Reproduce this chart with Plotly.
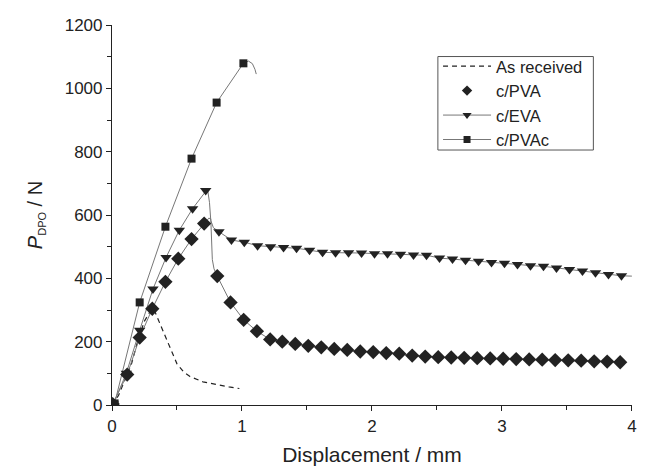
import plotly.graph_objects as go

# As received (dashed curve, no markers)
recv_x = [0.0, 0.05, 0.1, 0.15, 0.2, 0.25, 0.3, 0.32, 0.35, 0.4, 0.45, 0.5, 0.55, 0.6, 0.7, 0.8, 0.9, 0.98]
recv_y = [0, 30, 80, 130, 205, 265, 300, 305, 275, 225, 175, 130, 105, 90, 73, 64, 57, 52]

# c/PVA markers
pva_x = [0.005, 0.117, 0.213, 0.31, 0.411, 0.51, 0.612, 0.709, 0.81, 0.912, 1.013, 1.115, 1.217,
         1.31, 1.41, 1.51, 1.61, 1.71, 1.81, 1.91, 2.01, 2.11, 2.21, 2.31, 2.41, 2.51, 2.61, 2.71,
         2.81, 2.91, 3.01, 3.11, 3.21, 3.31, 3.41, 3.51, 3.61, 3.71, 3.81, 3.91]
pva_y = [3, 96, 213, 304, 389, 462, 524, 573, 407, 324, 269, 233, 207,
         200, 193, 187, 182, 177, 174, 169, 167, 164, 162, 156, 153, 151, 150, 149,
         148, 147, 146, 145, 144, 143, 142, 141, 140, 138, 137, 135]
# c/PVA raw curve around the peak drop
pva_peak_x = [0.745, 0.76, 0.765, 0.772, 0.785]
pva_peak_y = [590, 588, 540, 459, 430]

# c/EVA markers
eva_x = [0.01, 0.11, 0.213, 0.315, 0.416, 0.518, 0.62, 0.721, 0.823, 0.919, 1.018, 1.12, 1.22,
         1.32, 1.42, 1.52, 1.62, 1.72, 1.82, 1.92, 2.02, 2.12, 2.22, 2.32, 2.42, 2.52, 2.62, 2.72,
         2.82, 2.92, 3.02, 3.12, 3.22, 3.32, 3.42, 3.52, 3.62, 3.72, 3.82, 3.92]
eva_y = [3, 100, 236, 366, 466, 552, 620, 677, 547, 521, 514, 503, 500,
         497, 495, 489, 482, 481, 481, 480, 478, 478, 476, 474, 473, 464, 461, 457,
         454, 450, 448, 444, 440, 438, 433, 428, 423, 418, 412, 408]
eva_peak_x = [0.735, 0.75, 0.76, 0.78]
eva_peak_y = [682, 640, 583, 560]
eva_end_x = [4.0]
eva_end_y = [407]

# c/PVAc markers
pvac_x = [0.02, 0.213, 0.411, 0.612, 0.805, 1.011]
pvac_y = [5, 324, 563, 778, 955, 1079]
pvac_tail_x = [1.05, 1.08, 1.10, 1.11]
pvac_tail_y = [1086, 1078, 1060, 1045]


def merge(xa, ya, xb, yb):
    pts = sorted(zip(xa + xb, ya + yb))
    return [p[0] for p in pts], [p[1] for p in pts]


ink = "#222222"
thin = "#777777"
font = "Liberation Sans, Arial, sans-serif"

fig = go.Figure()

# curves
fig.add_trace(go.Scatter(x=recv_x, y=recv_y, mode="lines", showlegend=False,
                         line=dict(color=ink, width=1.2, dash="5px,4px")))
lx, ly = merge(pva_x, pva_y, pva_peak_x, pva_peak_y)
fig.add_trace(go.Scatter(x=lx, y=ly, mode="lines", showlegend=False,
                         line=dict(color=thin, width=1)))
lx, ly = merge(eva_x, eva_y, eva_peak_x + eva_end_x, eva_peak_y + eva_end_y)
fig.add_trace(go.Scatter(x=lx, y=ly, mode="lines", showlegend=False,
                         line=dict(color=thin, width=1)))
lx, ly = merge(pvac_x, pvac_y, pvac_tail_x, pvac_tail_y)
fig.add_trace(go.Scatter(x=lx, y=ly, mode="lines", showlegend=False,
                         line=dict(color=thin, width=1)))

# markers
fig.add_trace(go.Scatter(x=pva_x, y=pva_y, mode="markers", showlegend=False,
                         marker=dict(symbol="diamond", size=11, color=ink)))
fig.add_trace(go.Scatter(x=eva_x, y=eva_y, mode="markers", showlegend=False,
                         marker=dict(symbol="triangle-down", size=10, color=ink)))
fig.add_trace(go.Scatter(x=pvac_x, y=pvac_y, mode="markers", showlegend=False,
                         marker=dict(symbol="square", size=8, color=ink)))

# legend entries
fig.add_trace(go.Scatter(x=[None], y=[None], mode="lines", name="As received",
                         line=dict(color=ink, width=1.2, dash="5px,4px")))
fig.add_trace(go.Scatter(x=[None], y=[None], mode="markers", name="c/PVA",
                         marker=dict(symbol="diamond", size=8, color=ink)))
fig.add_trace(go.Scatter(x=[None], y=[None], mode="lines+markers", name="c/EVA",
                         line=dict(color=thin, width=1),
                         marker=dict(symbol="triangle-down", size=8, color=ink)))
fig.add_trace(go.Scatter(x=[None], y=[None], mode="lines+markers", name="c/PVAc",
                         line=dict(color=thin, width=1),
                         marker=dict(symbol="square", size=7, color=ink)))

axis_common = dict(showline=True, linecolor=ink, linewidth=1.2, mirror=False,
                   showgrid=False, zeroline=False, ticks="outside", ticklen=5,
                   tickcolor=ink, tickwidth=1, ticklabeloverflow="allow",
                   tickfont=dict(family=font, size=17, color=ink))

# the page body adds an 8px offset, so the figure is 8px smaller
fig.update_layout(
    width=637, height=462,
    margin=dict(l=104, r=8, t=12, b=64),
    paper_bgcolor="white", plot_bgcolor="white",
    font=dict(family=font, color=ink),
    xaxis=dict(range=[0, 4.001], dtick=1, tick0=0,
               minor=dict(dtick=0.5, ticks="outside", ticklen=4, tickcolor=ink),
               title=dict(text="Displacement / mm", font=dict(family=font, size=21, color=ink),
                          standoff=12),
               **axis_common),
    yaxis=dict(range=[0, 1200], dtick=200, tick0=0,
               minor=dict(dtick=100, ticks="outside", ticklen=4, tickcolor=ink),
               title=dict(text="<i>P</i><sub><span style='font-size:11px'>DPO</span></sub> / N",
                          font=dict(family=font, size=20, color=ink),
                          standoff=16),
               **axis_common),
    legend=dict(x=0.627, y=0.937, xanchor="left", yanchor="top",
                bgcolor="rgba(0,0,0,0)", borderwidth=0,
                font=dict(family=font, size=16.5, color=ink),
                itemwidth=48, tracegroupgap=0),
    # legend frame
    shapes=[dict(type="rect", xref="paper", yref="paper",
                 x0=0.6267, x1=0.9257, y0=0.671, y1=0.917,
                 line=dict(color="#555555", width=1), layer="below")],
)

fig.write_html("out.html")
